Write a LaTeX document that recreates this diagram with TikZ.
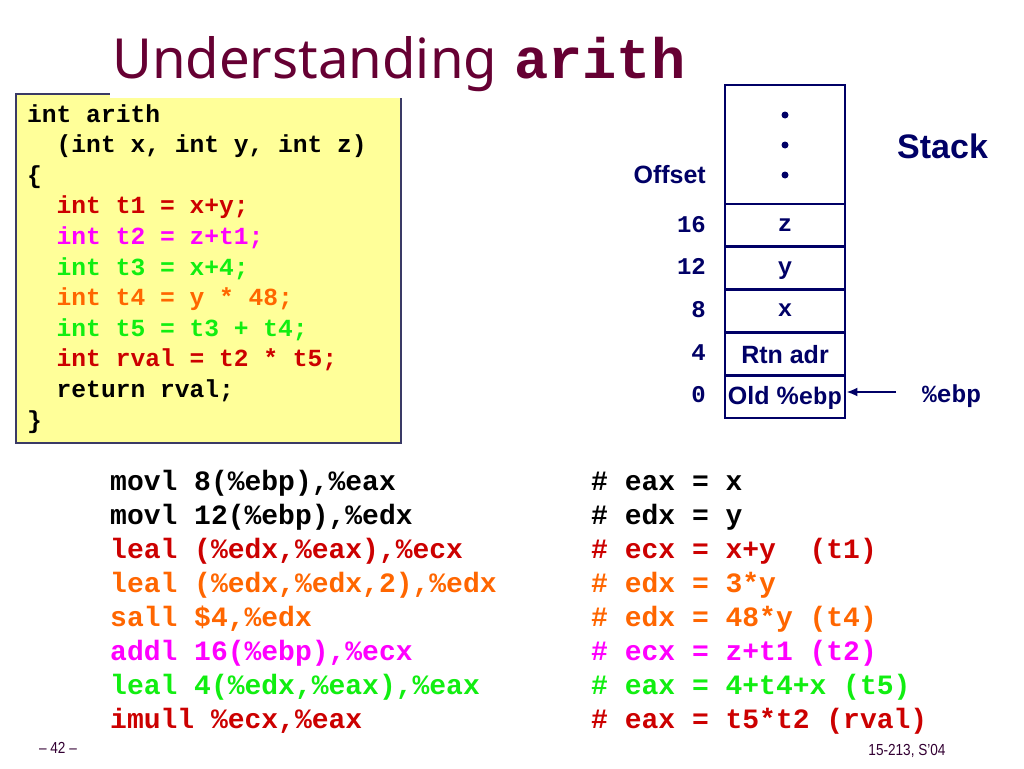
\documentclass[tikz,border=0pt]{standalone}
\usepackage{fontspec}
\usepackage{graphicx}
\usetikzlibrary{arrows.meta}
\setmainfont{Liberation Sans}
\newfontfamily\monof{Liberation Mono}
\newfontfamily\titlef{Noto Sans}
\definecolor{titlec}{HTML}{660033}
\definecolor{navy}{HTML}{000066}
\definecolor{cred}{HTML}{CC0000}
\definecolor{cmag}{HTML}{FF00FF}
\definecolor{cgrn}{HTML}{11EE11}
\definecolor{corg}{HTML}{FF6600}
\definecolor{boxfill}{HTML}{FFFF99}
\definecolor{boxline}{HTML}{3A3A66}
\definecolor{foot}{HTML}{330033}
\begin{document}
\begin{tikzpicture}[x=1pt,y=-1pt,
  codeline/.style={anchor=base west,inner sep=0pt,font=\monof\bfseries\fontsize{24.6}{28}\selectfont},
  asmline/.style={anchor=base west,inner sep=0pt,font=\monof\bfseries\fontsize{28}{32}\selectfont},
  cell/.style={draw=navy,line width=2.8pt,minimum width=120pt,minimum height=42.8pt,inner sep=0pt},
  stacklbl/.style={inner sep=0pt,text=navy,font=\bfseries\fontsize{25}{28}\selectfont},
  stackmono/.style={inner sep=0pt,text=navy,font=\monof\bfseries\fontsize{24}{28}\selectfont},
  dotmark/.style={circle,fill=navy,inner sep=0pt,minimum size=7pt},
  footer/.style={inner sep=0pt,text=foot,font=\fontsize{16}{18}\selectfont}
]
\useasboundingbox (0,0) rectangle (1024,768);
\fill[white] (0,0) rectangle (1024,768);

% code box
\node[draw=boxline,fill=boxfill,line width=2pt,minimum width=385pt,minimum height=349pt,inner sep=0pt] (codebox) at (208.5,268.5) {};
\fill[white] (110,-2) rectangle (715,97.5);

% title
\node[anchor=base west,inner sep=0pt,text=titlec] (title) at (112,78) {\resizebox{385pt}{42pt}{\titlef Understanding}};
\node[anchor=base west,inner sep=0pt,text=titlec,font=\monof\bfseries\fontsize{57}{60}\selectfont] (titlecode) at (514,78) {arith};

% C code
\node[codeline] (c1) at (27,122) {int arith};
\node[codeline] (c2) at (27,152.6) {~~(int x, int y, int z)};
\node[codeline] (c3) at (27,183.2) {\{};
\node[codeline,text=cred] (c4) at (27,213.8) {~~int t1 = x+y;};
\node[codeline,text=cmag] (c5) at (27,244.4) {~~int t2 = z+t1;};
\node[codeline,text=cgrn] (c6) at (27,275) {~~int t3 = x+4;};
\node[codeline,text=corg] (c7) at (27,305.6) {~~int t4 = y * 48;};
\node[codeline,text=cgrn] (c8) at (27,336.2) {~~int t5 = t3 + t4;};
\node[codeline,text=cred] (c9) at (27,366.8) {~~int rval = t2 * t5;};
\node[codeline] (c10) at (27,397.4) {~~return rval;};
\node[codeline] (c11) at (27,428) {\}};

% stack
\node[cell,minimum height=119pt] (top) at (785,144.5) {};
\node[cell] (cz) at (785,225.4) {};
\node[cell] (cy) at (785,268.2) {};
\node[cell] (cx) at (785,311) {};
\node[cell] (crtn) at (785,353.8) {};
\node[cell] (cold) at (785,396.6) {};
\node[dotmark] (d1) at (785,115) {};
\node[dotmark] (d2) at (785,145) {};
\node[dotmark] (d3) at (785,175) {};
\node[stackmono,anchor=base] (lz) at (785,231) {z};
\node[stackmono,anchor=base] (ly) at (785,274) {y};
\node[stackmono,anchor=base] (lx) at (785,316.5) {x};
\node[stacklbl,anchor=base] (lrtn) at (785,363) {Rtn adr};
\node[stacklbl,anchor=base] (lold) at (785,404.5) {Old \%{\monof\fontsize{24}{28}\selectfont ebp}};

\node[stacklbl,anchor=base east] (offset) at (706,183) {Offset};
\node[stackmono,anchor=base east] (o16) at (706,232) {16};
\node[stackmono,anchor=base east] (o12) at (706,274.5) {12};
\node[stackmono,anchor=base east] (o8) at (706,317.5) {8};
\node[stackmono,anchor=base east] (o4) at (706,360) {4};
\node[stackmono,anchor=base east] (o0) at (706,402.5) {0};

\node[stacklbl,anchor=base west,font=\bfseries\fontsize{34}{38}\selectfont] (stack) at (897,158) {Stack};

\node[stackmono,anchor=base west,font=\monof\bfseries\fontsize{24.6}{28}\selectfont] (ebp) at (922,402) {\%ebp};
\coordinate (arrtail) at (896,392);
\draw[navy,line width=2pt,-{Latex[length=11pt,width=9pt]}] (arrtail) -- (arrtail -| cold.east);

% assembly
\node[asmline] (a1) at (110,490) {movl 8(\%ebp),\%eax};
\node[asmline] (a2) at (110,524) {movl 12(\%ebp),\%edx};
\node[asmline,text=cred] (a3) at (110,558) {leal (\%edx,\%eax),\%ecx};
\node[asmline,text=corg] (a4) at (110,592) {leal (\%edx,\%edx,2),\%edx};
\node[asmline,text=corg] (a5) at (110,626) {sall \$4,\%edx};
\node[asmline,text=cmag] (a6) at (110,660) {addl 16(\%ebp),\%ecx};
\node[asmline,text=cgrn] (a7) at (110,694) {leal 4(\%edx,\%eax),\%eax};
\node[asmline,text=cred] (a8) at (110,728) {imull \%ecx,\%eax};

\node[asmline] (m1) at (591,490) {\# eax = x};
\node[asmline] (m2) at (591,524) {\# edx = y};
\node[asmline,text=cred] (m3) at (591,558) {\# ecx = x+y~~(t1)};
\node[asmline,text=corg] (m4) at (591,592) {\# edx = 3*y};
\node[asmline,text=corg] (m5) at (591,626) {\# edx = 48*y (t4)};
\node[asmline,text=cmag] (m6) at (591,660) {\# ecx = z+t1 (t2)};
\node[asmline,text=cgrn] (m7) at (591,694) {\# eax = 4+t4+x (t5)};
\node[asmline,text=cred] (m8) at (591,728) {\# eax = t5*t2 (rval)};

% footer
\node[footer] (pg) at (58,748) {\scalebox{0.85}[1]{– 42 –}};
\node[footer] (course) at (907,751) {\scalebox{0.85}[1]{15-213, S'04}};
\end{tikzpicture}
\end{document}
